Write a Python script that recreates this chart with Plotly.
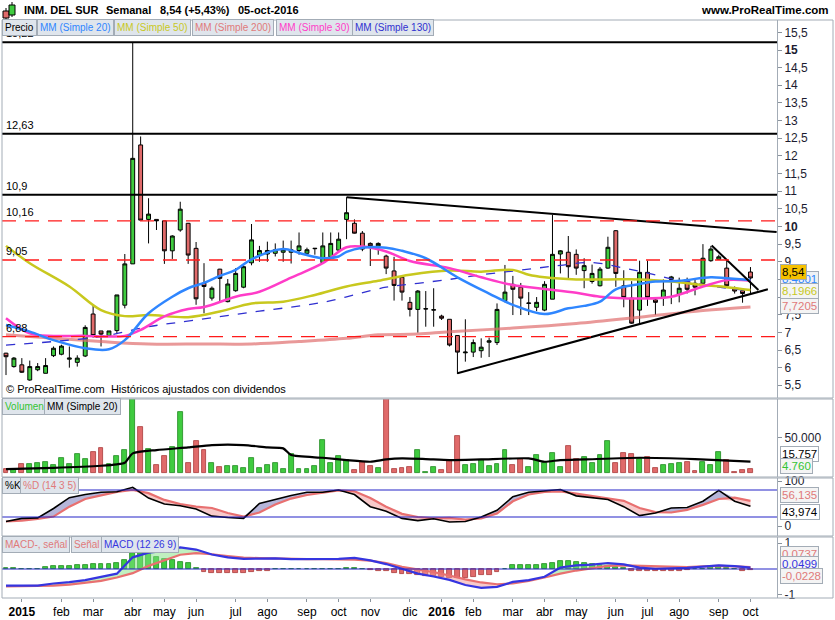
import plotly.graph_objects as go
import numpy as np

# ---------------- data (weekly, index 0 = week of 15-dic-2014) ----------------
OPEN = [6.41, 6.03, 6.08, 5.65, 5.94, 5.84, 6.34, 6.38, 6.24, 6.15,
        6.33, 7.52, 7.04, 6.90, 7.05, 7.77, 8.94, 12.31, 10.20, 10.20,
        10.16, 9.31, 9.90, 10.09, 9.38, 8.39, 7.97, 8.79, 7.87, 8.18,
        8.28, 8.97, 9.19, 9.22, 9.24, 9.27, 9.27, 9.32, 9.24, 9.37,
        8.98, 9.14, 9.33, 10.20, 10.09, 9.81, 9.52, 9.45, 9.16, 8.74,
        8.56, 7.85, 7.65, 7.66, 7.63, 7.46, 7.37, 6.91, 6.42, 6.44,
        6.48, 6.72, 6.71, 7.90, 8.36, 8.28, 7.82, 7.71, 7.63, 7.94,
        9.22, 9.27, 9.21, 8.75, 8.44, 8.32, 8.82, 9.88, 8.32, 7.97,
        7.63, 8.70, 7.92, 7.98, 8.50, 8.08, 8.47, 8.39, 8.39, 9.03,
        9.07, 8.82, 8.27, 8.18, 8.71]
HIGH = [6.42, 6.30, 6.27, 6.20, 6.13, 6.27, 6.60, 6.65, 6.60, 6.35,
        7.20, 7.78, 7.04, 7.04, 8.06, 9.22, 15.22, 12.55, 10.80, 10.20,
        10.16, 9.75, 10.70, 10.10, 9.56, 8.96, 8.30, 8.80, 8.51, 8.82,
        8.90, 10.07, 9.45, 9.57, 9.52, 9.60, 9.60, 9.83, 9.40, 9.38,
        9.83, 9.83, 9.83, 10.83, 10.20, 9.87, 9.55, 9.55, 9.20, 9.14,
        8.60, 8.00, 8.20, 8.17, 8.25, 7.50, 7.37, 6.91, 7.37, 6.80,
        6.83, 6.85, 7.82, 8.91, 8.60, 8.40, 8.14, 8.00, 8.45, 10.33,
        9.33, 9.73, 9.35, 9.10, 8.92, 8.85, 9.71, 9.90, 8.76, 8.45,
        9.03, 9.03, 7.95, 8.50, 8.60, 8.55, 8.55, 8.50, 9.50, 9.45,
        9.20, 9.05, 8.30, 8.20, 8.85]
LOW = [5.79, 6.00, 5.85, 5.63, 5.90, 5.84, 6.30, 6.35, 6.00, 6.03,
       6.30, 6.85, 6.60, 6.88, 6.95, 7.68, 8.94, 10.18, 9.52, 9.90,
       8.94, 9.08, 9.85, 8.94, 7.78, 7.54, 7.90, 7.87, 7.85, 8.15,
       8.25, 8.90, 9.00, 9.00, 9.15, 9.00, 8.95, 9.20, 9.20, 9.20,
       8.95, 9.10, 9.30, 9.64, 9.80, 9.30, 8.88, 9.20, 8.65, 7.90,
       7.90, 7.45, 6.99, 7.16, 7.16, 7.35, 6.60, 5.82, 6.17, 6.30,
       6.28, 6.30, 6.64, 7.85, 7.49, 7.49, 7.49, 7.60, 7.60, 7.94,
       8.67, 8.49, 8.63, 8.25, 8.38, 8.30, 8.80, 8.29, 7.71, 7.24,
       7.21, 7.75, 7.49, 7.75, 7.80, 7.85, 8.10, 8.05, 8.35, 9.00,
       9.05, 8.30, 8.10, 7.84, 8.10]
CLOSE = [6.31, 6.27, 5.87, 6.03, 6.03, 6.06, 6.55, 6.61, 6.27, 6.27,
         7.14, 6.91, 6.95, 7.04, 8.06, 8.94, 11.93, 10.18, 10.35, 10.16,
         9.31, 9.73, 10.49, 9.19, 7.95, 8.30, 8.25, 8.53, 8.37, 8.67,
         8.86, 9.62, 9.32, 9.32, 9.34, 9.34, 9.34, 9.45, 9.34, 9.38,
         9.45, 9.52, 9.64, 10.39, 9.81, 9.36, 9.45, 9.52, 8.82, 8.33,
         8.14, 7.65, 8.17, 7.67, 7.64, 7.40, 6.64, 6.44, 6.44, 6.71,
         6.58, 6.76, 7.65, 8.14, 8.22, 7.97, 7.83, 7.85, 8.36, 9.21,
         9.31, 8.86, 8.82, 8.89, 8.67, 8.79, 9.41, 8.67, 7.99, 7.26,
         8.70, 7.99, 7.85, 8.20, 8.57, 8.25, 8.22, 8.28, 9.10, 9.36,
         9.14, 8.32, 8.17, 8.10, 8.54]
VOLUME = [5200, 5200, 12400, 12400, 13300, 15200, 10500, 20500, 12400, 26700,
          19000, 29500, 34800, 12400, 23800, 32400, 270000, 64800, 33300, 11000,
          23800, 36200, 86700, 13300, 45200, 32400, 13300, 7600, 9500, 10000,
          6200, 20500, 6200, 11000, 13300, 4800, 26700, 4800, 4800, 9000,
          46700, 13300, 23800, 18000, 3800, 14800, 9500, 6200, 130000, 5200,
          6200, 7600, 32400, 1000, 8600, 3800, 17100, 52400, 11000, 12400,
          18000, 9500, 12400, 32400, 11000, 20000, 8600, 25200, 14300, 27600,
          7600, 38100, 19000, 21900, 14300, 25200, 45200, 13300, 28600, 26700,
          19500, 21900, 6200, 11000, 12400, 14300, 15700, 2900, 15700, 11000,
          29500, 18000, 1400, 3800, 4760]
IDX = list(range(len(CLOSE)))

# moving averages (week index, value)
SMA20_X = [0, 3, 6, 10, 13, 15, 18, 21, 23, 25, 27, 29, 31, 35, 37, 40, 42, 43, 45, 48,
           50, 53, 57, 61, 64, 68, 71, 73, 75, 77, 80, 82, 85, 89, 91, 94]
SMA20_Y = [7.21, 7.02, 6.78, 6.55, 6.52, 6.78, 7.54, 8.01, 8.25, 8.40, 8.60, 8.77, 9.07, 9.36,
           9.25, 9.10, 9.15, 9.28, 9.40, 9.40, 9.31, 9.10, 8.56, 8.10, 7.78, 7.52, 7.68, 7.75,
           7.87, 8.22, 8.37, 8.44, 8.46, 8.56, 8.53, 8.48]
SMA30_X = [0, 3, 6, 10, 13, 15, 17, 20, 23, 25, 29, 32, 36, 40, 43, 45, 48, 51, 56, 60,
           64, 68, 72, 75, 80, 84, 88, 91, 94]
SMA30_Y = [7.40, 6.97, 6.90, 6.90, 6.88, 6.90, 7.07, 7.45, 7.66, 7.72, 8.01, 8.15, 8.55, 8.96,
           9.41, 9.43, 9.29, 9.02, 8.82, 8.56, 8.34, 8.23, 8.12, 8.01, 7.96, 8.01, 8.30, 8.48, 8.46]
SMA50_X = [0, 3, 8, 12, 15, 18, 23, 27, 31, 35, 39, 43, 47, 51, 56, 60, 64, 66, 68, 72,
           76, 80, 84, 88, 91, 94]
SMA50_Y = [9.45, 8.96, 8.30, 7.63, 7.46, 7.49, 7.43, 7.59, 7.82, 7.87, 8.06, 8.30, 8.46, 8.63,
           8.75, 8.72, 8.77, 8.63, 8.56, 8.50, 8.50, 8.50, 8.44, 8.34, 8.28, 8.20]
SMA130_X = [0, 6, 12, 18, 24, 32, 40, 48, 52, 56, 60, 66, 70, 74, 78, 81, 84, 87, 90, 94]
SMA130_Y = [6.64, 6.74, 6.88, 7.16, 7.35, 7.60, 7.85, 8.28, 8.39, 8.50, 8.63, 8.79, 8.90, 8.98,
            8.82, 8.68, 8.52, 8.40, 8.28, 8.18]
SMA200_X = [0, 6, 12, 18, 25, 31, 37, 43, 47, 52, 56, 64, 72, 80, 88, 94]
SMA200_Y = [6.93, 6.83, 6.74, 6.67, 6.67, 6.67, 6.74, 6.83, 6.93, 6.95, 7.02, 7.12, 7.25, 7.43,
            7.62, 7.72]

VOLMA_X = [0, 6, 12, 14, 15, 16, 19, 23, 26, 30, 33, 35, 36, 40, 43, 46, 48, 50, 53, 56,
           60, 66, 68, 70, 73, 80, 87, 94]
VOLMA_Y = [5200, 7000, 10000, 12000, 14300, 27600, 32400, 36200, 39500, 39500, 36200, 34800,
           25200, 21400, 18100, 15700, 19000, 20500, 19500, 18100, 19000, 20500, 15700, 18100,
           19000, 21400, 19500, 15757]

OSC_X = list(range(0, 95, 2))
STOCH_K = [10, 17, 18, 39, 63, 70, 75, 76, 86, 62, 49, 45, 38, 22, 19, 17, 50, 59, 68, 75,
           75, 80, 70, 43, 33, 17, 12, 16, 9, 10, 20, 35, 65, 75, 78, 81, 67, 63, 59, 43,
           23, 29, 40, 41, 55, 79, 55, 44]
STOCH_D = [10, 12, 16, 21, 43, 60, 68, 76, 80, 73, 58, 49, 43, 40, 29, 21, 30, 48, 61, 69,
           74, 79, 77, 62, 43, 27, 20, 17, 18, 14, 17, 28, 55, 70, 76, 77, 72, 67, 62, 56,
           40, 31, 30, 36, 47, 60, 63, 56]
MACD = [-0.64, -0.64, -0.64, -0.56, -0.51, -0.43, -0.30, -0.18, 0.45, 0.63, 0.70, 0.83, 0.75,
        0.56, 0.45, 0.39, 0.40, 0.41, 0.38, 0.38, 0.38, 0.39, 0.43, 0.33, 0.19, 0.00, -0.18,
        -0.29, -0.42, -0.62, -0.73, -0.69, -0.50, -0.43, -0.30, 0.06, 0.14, 0.17, 0.23, 0.18,
        0.05, 0.01, 0.03, 0.04, 0.09, 0.14, 0.11, 0.05]
SIGNAL = [-0.67, -0.66, -0.65, -0.64, -0.60, -0.54, -0.46, -0.33, -0.16, 0.12, 0.35, 0.55, 0.61,
          0.57, 0.50, 0.44, 0.42, 0.40, 0.39, 0.38, 0.38, 0.38, 0.36, 0.32, 0.23, 0.08, -0.02,
          -0.12, -0.25, -0.40, -0.52, -0.59, -0.56, -0.46, -0.33, -0.18, -0.06, 0.03, 0.12, 0.14,
          0.12, 0.10, 0.09, 0.07, 0.10, 0.12, 0.10, 0.07]
HIST = [0.04, 0.04, 0, 0, 0, 0.09, 0.12, 0.12, 0.12, 0.14, 0.14, 0.18, 0.18, 0.18, 0.22, 0.35,
        0.61, 0.61, 0.58, 0.48, 0.38, 0.35, 0.27, 0.22, 0.04, -0.12, -0.14, -0.17, -0.17, -0.17,
        -0.14, -0.12, -0.08, -0.07, 0, 0, 0, 0, 0, 0, 0, 0, 0, 0.04, 0.04, 0, -0.05, -0.07,
        -0.09, -0.14, -0.18, -0.21, -0.25, -0.27, -0.27, -0.30, -0.33, -0.34, -0.34, -0.31,
        -0.25, -0.22, -0.12, 0, 0.14, 0.16, 0.16, 0.16, 0.20, 0.25, 0.30, 0.30, 0.27, 0.22,
        0.20, 0.17, 0.12, 0.09, 0.04, -0.09, -0.07, -0.07, -0.09, -0.07, -0.07, -0.07, -0.05,
        0, 0, 0.12, 0.12, 0.04, 0, -0.08, -0.02]

LEVELS_SOLID = [15.22, 12.63, 10.9]
LEVELS_DASHED = [10.16, 9.05, 6.88]
TREND_TOP = ([43, 97.3], [10.83, 9.84])
TREND_BOTTOM = ([57, 96.2], [5.84, 8.22])
TREND_SHORT = ([89.1, 95.0], [9.46, 8.20])

TICK_IDX = [2, 7, 11, 16, 20, 24, 29, 33, 38, 42, 46, 51, 55, 59, 64, 68, 72, 77, 81, 85, 90, 94]
TICK_TXT = ['<b>2015</b>', 'feb', 'mar', 'abr', 'may', 'jun', 'jul', 'ago', 'sep', 'oct', 'nov',
            'dic', '<b>2016</b>', 'feb', 'mar', 'abr', 'may', 'jun', 'jul', 'ago', 'sep', 'oct']
PRICE_TICKS = [5.5 + 0.5 * k for k in range(21)]

# ---------------- geometry helpers ----------------
W, H = 835, 620
ML, MR, MT, MB = 2, 58, 20, 22
PW, PH = W - ML - MR, H - MT - MB
FONT = "Liberation Sans, Arial, sans-serif"


def px(xp):
    return (xp - ML) / PW


def py(yp):
    return (H - MB - yp) / PH


D_MAIN = [py(398), 1.0]
D_VOL = [py(477), py(399)]
D_STO = [py(536), py(478)]
D_MACD = [0.0, py(537)]

GREEN = '#3fcb3f'
RED = '#e06a6a'

fig = go.Figure()

# ---------------- main panel ----------------
for lv in LEVELS_SOLID:
    fig.add_shape(type='line', xref='paper', yref='y', x0=0, x1=1, y0=lv, y1=lv,
                  line=dict(color='black', width=2))
for lv in LEVELS_DASHED:
    fig.add_shape(type='line', xref='paper', yref='y', x0=0, x1=1, y0=lv, y1=lv,
                  line=dict(color='#ff1a1a', width=1.3, dash='14px,9px'))

fig.add_trace(go.Scatter(x=SMA200_X, y=SMA200_Y, mode='lines', line=dict(color='rgba(224,110,110,0.7)', width=3, shape='spline'), hoverinfo='skip'))
fig.add_trace(go.Scatter(x=SMA130_X, y=SMA130_Y, mode='lines', line=dict(color='#3030d0', width=1.3, dash='9px,9px', shape='spline'), hoverinfo='skip'))
fig.add_trace(go.Scatter(x=SMA50_X, y=SMA50_Y, mode='lines', line=dict(color='#c8c81e', width=2.5, shape='spline'), hoverinfo='skip'))
fig.add_trace(go.Scatter(x=SMA30_X, y=SMA30_Y, mode='lines', line=dict(color='#ff3cc8', width=2.5, shape='spline'), hoverinfo='skip'))
fig.add_trace(go.Scatter(x=SMA20_X, y=SMA20_Y, mode='lines', line=dict(color='#2f86ff', width=2.5, shape='spline'), hoverinfo='skip'))

fig.add_trace(go.Candlestick(
    x=IDX, open=OPEN, high=HIGH, low=LOW, close=CLOSE,
    increasing=dict(fillcolor=GREEN, line=dict(color='black', width=1)),
    decreasing=dict(fillcolor=RED, line=dict(color='black', width=1)),
    whiskerwidth=0, hoverinfo='skip'))

for tx, ty in (TREND_TOP, TREND_BOTTOM, TREND_SHORT):
    fig.add_trace(go.Scatter(x=tx, y=ty, mode='lines', line=dict(color='black', width=2), hoverinfo='skip'))

# ---------------- volume ----------------
vcol = [GREEN if c >= o else RED for o, c in zip(OPEN, CLOSE)]
vline = ['#1f8a1f' if c >= o else '#a83a3a' for o, c in zip(OPEN, CLOSE)]
fig.add_trace(go.Bar(x=IDX, y=VOLUME, yaxis='y2', width=0.62, marker=dict(color=vcol, line=dict(color=vline, width=0.8)), hoverinfo='skip'))
fig.add_trace(go.Scatter(x=VOLMA_X, y=VOLMA_Y, yaxis='y2', mode='lines', line=dict(color='black', width=2.2, shape='spline', smoothing=0.6), hoverinfo='skip'))

# ---------------- stochastic ----------------
K = np.array(STOCH_K, dtype=float)
Dd = np.array(STOCH_D, dtype=float)
fig.add_trace(go.Scatter(x=OSC_X, y=Dd, yaxis='y3', mode='lines', line=dict(width=0), hoverinfo='skip'))
fig.add_trace(go.Scatter(x=OSC_X, y=np.maximum(K, Dd), yaxis='y3', mode='lines', line=dict(width=0), fill='tonexty', fillcolor='rgba(120,120,185,0.55)', hoverinfo='skip'))
fig.add_trace(go.Scatter(x=OSC_X, y=Dd, yaxis='y3', mode='lines', line=dict(width=0), hoverinfo='skip'))
fig.add_trace(go.Scatter(x=OSC_X, y=np.minimum(K, Dd), yaxis='y3', mode='lines', line=dict(width=0), fill='tonexty', fillcolor='rgba(240,150,150,0.5)', hoverinfo='skip'))
fig.add_trace(go.Scatter(x=OSC_X, y=Dd, yaxis='y3', mode='lines', line=dict(color='#e87070', width=2.2), hoverinfo='skip'))
fig.add_trace(go.Scatter(x=OSC_X, y=K, yaxis='y3', mode='lines', line=dict(color='black', width=1.6), hoverinfo='skip'))
for lv in (80, 20):
    fig.add_shape(type='line', xref='paper', yref='y3', x0=0, x1=1, y0=lv, y1=lv, line=dict(color='#2424c8', width=1.2))

# ---------------- MACD ----------------
M = np.array(MACD)
S = np.array(SIGNAL)
fig.add_shape(type='line', xref='paper', yref='y4', x0=0, x1=1, y0=0, y1=0, line=dict(color='#2424c8', width=1.2))
fig.add_trace(go.Scatter(x=OSC_X, y=S, yaxis='y4', mode='lines', line=dict(width=0), hoverinfo='skip'))
fig.add_trace(go.Scatter(x=OSC_X, y=np.maximum(M, S), yaxis='y4', mode='lines', line=dict(width=0), fill='tonexty', fillcolor='rgba(130,225,130,0.5)', hoverinfo='skip'))
fig.add_trace(go.Scatter(x=OSC_X, y=S, yaxis='y4', mode='lines', line=dict(width=0), hoverinfo='skip'))
fig.add_trace(go.Scatter(x=OSC_X, y=np.minimum(M, S), yaxis='y4', mode='lines', line=dict(width=0), fill='tonexty', fillcolor='rgba(240,150,150,0.5)', hoverinfo='skip'))
hcol = [GREEN if h >= 0 else RED for h in HIST]
hline = ['#1f8a1f' if h >= 0 else '#a83a3a' for h in HIST]
fig.add_trace(go.Bar(x=IDX, y=HIST, yaxis='y4', width=0.62, marker=dict(color=hcol, line=dict(color=hline, width=0.8)), hoverinfo='skip'))
fig.add_trace(go.Scatter(x=OSC_X, y=S, yaxis='y4', mode='lines', line=dict(color='#e87070', width=2.2), hoverinfo='skip'))
fig.add_trace(go.Scatter(x=OSC_X, y=M, yaxis='y4', mode='lines', line=dict(color='#3535e0', width=2.2), hoverinfo='skip'))

# ---------------- panel frames ----------------
for d in (D_MAIN, D_VOL, D_STO, D_MACD):
    fig.add_shape(type='rect', xref='paper', yref='paper', x0=0, x1=px(833), y0=d[0], y1=d[1],
                  line=dict(color='#a3acb6', width=1), layer='above')

# ---------------- annotations ----------------
ann = []


def label(text, xp, yp, color='black', size=12, bold=False, anchor='left', **kw):
    t = f'<b>{text}</b>' if bold else text
    ann.append(dict(text=t, x=px(xp), y=py(yp), xref='paper', yref='paper', xanchor=anchor,
                    yanchor='middle', showarrow=False, font=dict(color=color, size=size, family=FONT), **kw))


def box(text, xp, yp, color, bg='#dfe5ec', size=10, pad=2):
    ann.append(dict(text=text, x=px(xp), y=py(yp), xref='paper', yref='paper', xanchor='left',
                    yanchor='middle', showarrow=False, bgcolor=bg, bordercolor='#a3acb6',
                    borderwidth=1, borderpad=pad, font=dict(color=color, size=size, family=FONT)))


# header
label('INM. DEL SUR', 22, 10, bold=True, size=11)
label('Semanal', 104, 10, bold=True, size=11)
label('8,54 (+5,43%)', 158, 10, bold=True, size=11)
label('05-oct-2016', 236, 10, bold=True, size=11)
label('www.ProRealTime.com', 831, 10, bold=True, anchor='right', size=11.5)

# level labels
for lv, txt in zip(LEVELS_SOLID + LEVELS_DASHED, ['15,22', '12,63', '10,9', '10,16', '9,05', '6,88']):
    ann.append(dict(text=txt, x=px(4), y=lv, xref='paper', yref='y', xanchor='left', yanchor='bottom',
                    yshift=1, showarrow=False, font=dict(size=11, color='black', family=FONT)))

label('© ProRealTime.com  Históricos ajustados con dividendos', 4, 389, size=11)

# legends
box('Precio', 2, 28, 'black')
box('MM (Simple 20)', 37, 28, '#2f86ff')
box('MM (Simple 50)', 114, 28, '#c8c81e')
box('MM (Simple 200)', 192, 28, '#e07a7a')
box('MM (Simple 30)', 276, 28, '#ff3cc8')
box('MM (Simple 130)', 352, 28, '#3030d0')
box('Volumen', 2, 406, '#33c433')
box('MM (Simple 20)', 44, 406, 'black')
box('%K', 2, 485, 'black')
box('%D (14 3 5)', 20, 485, '#e07a7a')
box('MACD-, señal', 2, 544, '#e07a7a')
box('Señal', 71, 544, '#e07a7a')
box('MACD (12 26 9)', 101, 544, '#3535e0')

# right value boxes
box('8,4801', 780, 279, '#2f86ff', bg='#eef1f5', size=11.5, pad=1)
box('8,54', 780, 272, 'black', bg='#f5c000', size=11.5, pad=1)
box('8,1966', 780, 291, '#c8c81e', bg='#f4f4f4', size=11.5, pad=1)
box('7,7205', 780, 306, '#e07a7a', bg='#f4f4f4', size=11.5, pad=1)
box('15.757', 780, 454, 'black', bg='white', size=11.5, pad=1)
box('4.760', 780, 466, '#33c433', bg='#f4f4f4', size=11.5, pad=1)
box('56,135', 780, 495, '#e07a7a', bg='#f4f4f4', size=11.5, pad=1)
box('43,974', 780, 512, 'black', bg='white', size=11.5, pad=1)
box('0,0737', 780, 554, '#e07a7a', bg='#f4f4f4', size=11.5, pad=1)
box('0,0499', 780, 564, '#3535e0', bg='#f4f4f4', size=11.5, pad=1)
box('-0,0228', 780, 576, '#e07a7a', bg='#f4f4f4', size=11.5, pad=1)

# header icon
shapes_icon = [
    dict(type='line', xref='paper', yref='paper', x0=px(6), x1=px(6), y0=py(20), y1=py(8), line=dict(color='black', width=1)),
    dict(type='rect', xref='paper', yref='paper', x0=px(3), x1=px(9), y0=py(18), y1=py(11), fillcolor=RED, line=dict(color='black', width=1)),
    dict(type='line', xref='paper', yref='paper', x0=px(12), x1=px(12), y0=py(17), y1=py(2), line=dict(color='black', width=1)),
    dict(type='rect', xref='paper', yref='paper', x0=px(9), x1=px(15), y0=py(15), y1=py(5), fillcolor=GREEN, line=dict(color='black', width=1)),
]
for s in shapes_icon:
    fig.add_shape(**s)

axis_common = dict(showgrid=False, zeroline=False, side='right', anchor='x', ticks='outside',
                   ticklen=4, tickcolor='#8a939c', showline=True, linecolor='#a3acb6',
                   tickfont=dict(size=12, color='#1c1c30', family=FONT))

fig.update_layout(
    width=W, height=H, margin=dict(l=ML, r=MR, t=MT, b=MB),
    paper_bgcolor='white', plot_bgcolor='white', showlegend=False,
    bargap=0, annotations=ann,
    xaxis=dict(domain=[0, 1], range=[-0.505, 97.35], anchor='y4', showgrid=False, zeroline=False,
               tickvals=TICK_IDX, ticktext=TICK_TXT, ticks='outside', ticklen=3, tickcolor='#8a939c',
               tickfont=dict(size=12, color='black', family=FONT), rangeslider=dict(visible=False),
               showline=False),
    yaxis=dict(domain=D_MAIN, range=[5.14, 15.85], tickvals=PRICE_TICKS,
               ticktext=[('<b>%g</b>' if v in (10, 15) else '%g') % v for v in PRICE_TICKS],
               **axis_common),
    yaxis2=dict(domain=D_VOL, range=[-6100, 105300], tickvals=[50000], ticktext=['50.000'], **axis_common),
    yaxis3=dict(domain=D_STO, range=[-22.2, 106.7], tickvals=[0, 100], ticktext=['0', '100'], **axis_common),
    yaxis4=dict(domain=D_MACD, range=[-1.12, 1.235], tickvals=[-1, 1], ticktext=['-1', '1'], **axis_common),
)
fig.layout.yaxis.ticktext = [t.replace('.', ',') for t in fig.layout.yaxis.ticktext]

fig.write_html('out.html', config={'displayModeBar': False},
               post_script="document.body.style.margin='0';document.body.style.overflow='hidden';")
